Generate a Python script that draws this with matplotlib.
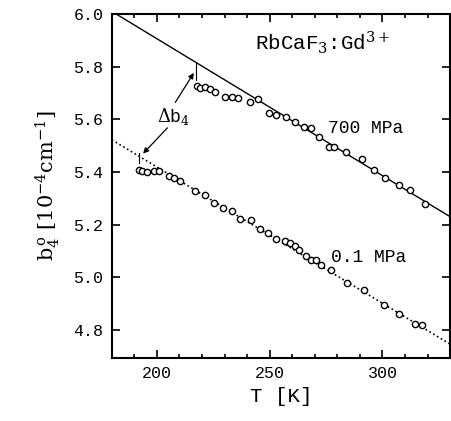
import matplotlib.pyplot as plt
from matplotlib.ticker import MultipleLocator

plt.rcParams["mathtext.fontset"] = "dejavuserif"
MONO = "Liberation Mono"

# 700 MPa data
t_700 = [217.7, 219.2, 221.4, 223.6, 225.8, 230.2, 233.1, 236.1, 241.2, 244.9,
         249.6, 252.9, 257.3, 261.0, 265.4, 268.3, 272.0, 276.4, 278.5, 283.7,
         291.0, 296.2, 301.3, 307.2, 312.3, 318.9]
b_700 = [5.727, 5.718, 5.722, 5.714, 5.705, 5.684, 5.684, 5.680, 5.667, 5.676,
         5.625, 5.617, 5.610, 5.591, 5.572, 5.566, 5.534, 5.496, 5.496, 5.477,
         5.449, 5.408, 5.376, 5.351, 5.332, 5.279]

# 0.1 MPa data
t_01 = [192.1, 193.5, 195.7, 198.7, 200.9, 205.3, 207.5, 210.4, 217.0, 221.4,
        225.1, 229.5, 233.1, 236.8, 241.9, 245.6, 249.3, 252.9, 256.6, 258.8,
        261.0, 263.2, 266.1, 268.3, 270.5, 272.7, 277.1, 284.4, 291.8, 300.6,
        307.2, 314.5, 317.4]
b_01 = [5.408, 5.402, 5.399, 5.402, 5.402, 5.383, 5.376, 5.364, 5.326, 5.313,
        5.282, 5.263, 5.250, 5.221, 5.216, 5.183, 5.168, 5.145, 5.136, 5.130,
        5.117, 5.102, 5.082, 5.066, 5.066, 5.047, 5.026, 4.980, 4.953, 4.896,
        4.860, 4.822, 4.817]

# fitted lines (end points)
fit_t_700 = [182.6, 330]
fit_b_700 = [5.996, 5.230]
fit_t_01 = [180, 330]
fit_b_01 = [5.522, 4.746]

fig = plt.figure(figsize=(4.51, 4.21), dpi=100)
ax = fig.add_axes([0.248, 0.15, 0.75, 0.817])

ax.plot(fit_t_700, fit_b_700, "-", color="black", lw=1.0)
ax.plot(fit_t_01, fit_b_01, ":", color="black", lw=1.2)
ax.plot(t_700, b_700, "o", mfc="white", mec="black", ms=4.5, mew=1.0)
ax.plot(t_01, b_01, "o", mfc="white", mec="black", ms=4.5, mew=1.0)

# delta b4 annotation
ax.plot([217.3, 217.3], [5.813, 5.75], color="black", lw=0.8)
ax.plot([192.1, 192.1], [5.47, 5.435], color="black", lw=0.8)
ax.annotate("", xy=(217.0, 5.785), xytext=(207.5, 5.655),
            arrowprops=dict(arrowstyle="-|>", color="black", lw=0.9,
                            mutation_scale=8))
ax.annotate("", xy=(193.0, 5.462), xytext=(205.5, 5.575),
            arrowprops=dict(arrowstyle="-|>", color="black", lw=0.9,
                            mutation_scale=8))
ax.text(207.5, 5.612, r"$\Delta$b$_4$", ha="center", va="center",
        fontsize=13, family=MONO)

ax.text(243.5, 5.89, r"RbCaF$_3$:Gd$^{3+}$", ha="left", va="center",
        fontsize=15, family=MONO)
ax.text(276, 5.565, "700 MPa", ha="left", va="center", fontsize=13, family=MONO)
ax.text(277, 5.075, "0.1 MPa", ha="left", va="center", fontsize=13, family=MONO)

ax.set_xlim(180, 330)
ax.set_ylim(4.694, 6.0)
ax.xaxis.set_major_locator(MultipleLocator(50))
ax.xaxis.set_minor_locator(MultipleLocator(10))
ax.yaxis.set_major_locator(MultipleLocator(0.2))
ax.yaxis.set_major_formatter(plt.FormatStrFormatter("%.1f"))
ax.tick_params(which="both", direction="in", top=True, right=True, width=1.2)
ax.tick_params(which="major", length=6, labelsize=12, pad=6)
ax.tick_params(which="minor", length=3)
for lab in ax.get_xticklabels() + ax.get_yticklabels():
    lab.set_family(MONO)
for sp in ax.spines.values():
    sp.set_linewidth(1.5)

ax.set_xlabel("T [K]", fontsize=15, family=MONO, labelpad=4)
ax.set_ylabel(r"b$_4^{\,\mathrm{o}}$ [10$^{-4}$cm$^{-1}$]", fontsize=15,
              family="DejaVu Serif", labelpad=8)

fig.savefig("out.png", dpi=100)
